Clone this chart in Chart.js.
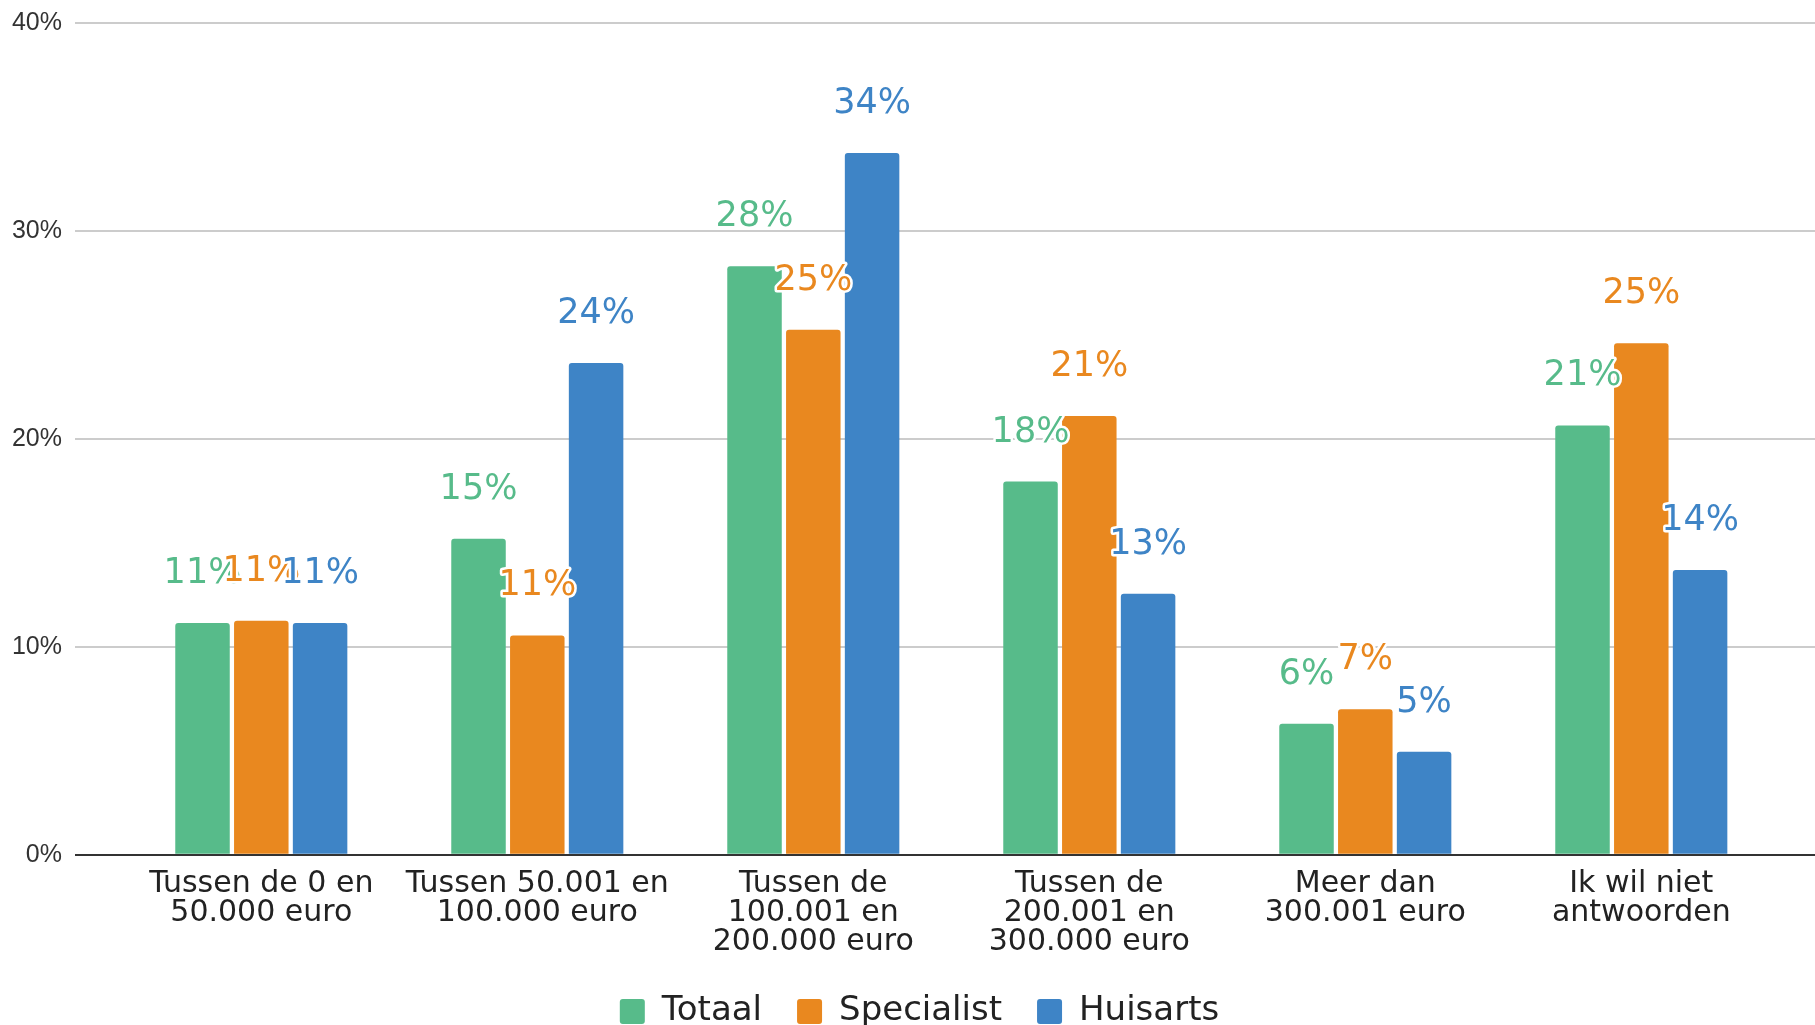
<!DOCTYPE html>
<html>
<head>
<meta charset="utf-8">
<title>Inkomen per groep</title>
<script src="https://cdn.jsdelivr.net/npm/chart.js@4.4.1/dist/chart.umd.min.js"></script>
<style>
    html, body { margin: 0; padding: 0; background: #fff; overflow: hidden; }
    #wrap { width: 1815px; height: 1025px; position: relative; }
</style>
</head>
<body>
<div id="wrap"><canvas id="inkomenChart"></canvas></div>
<script>
// Categorieën (x-as)
const categories = [
    ['Tussen de 0 en', '50.000 euro'],
    ['Tussen 50.001 en', '100.000 euro'],
    ['Tussen de', '100.001 en', '200.000 euro'],
    ['Tussen de', '200.001 en', '300.000 euro'],
    ['Meer dan', '300.001 euro'],
    ['Ik wil niet', 'antwoorden']
];

// Waarden in procenten
const totaal = [11.15, 15.2, 28.3, 17.95, 6.3, 20.65];
const specialist = [11.25, 10.55, 25.25, 21.1, 7.0, 24.6];
const huisarts = [11.15, 23.65, 33.75, 12.55, 4.95, 13.7];

const seriesNames = ['Totaal', 'Specialist', 'Huisarts'];
const yTicks = [0, 10, 20, 30, 40];

const colors = ['#57bb8a', '#e9881f', '#3e84c6'];

const gridColor = ctx => (ctx.tick && ctx.tick.value === 0) ? '#333333' : '#cccccc';

// Percentages boven de staven, met witte rand
const barLabels = {
    id: 'barLabels',
    afterDatasetsDraw(chart) {
        const ctx = chart.ctx;
        ctx.save();
        ctx.font = '35px "DejaVu Sans"';
        ctx.textAlign = 'center';
        ctx.textBaseline = 'alphabetic';
        ctx.lineJoin = 'round';
        ctx.lineWidth = 5;
        chart.data.datasets.forEach((ds, i) => {
            const meta = chart.getDatasetMeta(i);
            meta.data.forEach((bar, j) => {
                const txt = Math.round(ds.data[j]) + '%';
                const y = bar.y - 40;
                ctx.strokeStyle = '#ffffff';
                ctx.strokeText(txt, bar.x, y);
                ctx.fillStyle = ds.backgroundColor;
                ctx.fillText(txt, bar.x, y);
            });
        });
        ctx.restore();
    }
};

// legenda iets naar rechts, zoals in het origineel
const legendShift = {
    id: 'legendShift',
    afterLayout(chart) {
        if (chart.legend) {
            chart.legend.left += 12;
            chart.legend.right += 12;
        }
    }
};

const ctx = document.getElementById('inkomenChart').getContext('2d');

new Chart(ctx, {
    type: 'bar',
    data: {
        labels: categories,
        datasets: [totaal, specialist, huisarts].map((d, i) => ({
            label: seriesNames[i],
            data: d,
            backgroundColor: colors[i],
            borderRadius: { topLeft: 3, topRight: 3 },
            categoryPercentage: 0.639,
            barPercentage: 0.927
        }))
    },
    options: {
        responsive: true,
        maintainAspectRatio: false,
        animation: false,
        layout: { padding: { left: 0, top: 23, right: 0, bottom: -13.5 } },
        plugins: {
            legend: {
                position: 'bottom',
                labels: {
                    font: { family: '"DejaVu Sans"', size: 34 },
                    color: '#222222',
                    boxWidth: 25,
                    boxHeight: 25,
                    padding: 35,
                    useBorderRadius: true,
                    borderRadius: 3
                }
            },
            tooltip: { enabled: false }
        },
        scales: {
            x: {
                grid: { display: false },
                border: { display: true, color: '#333333', width: 2 },
                ticks: {
                    font: { family: '"DejaVu Sans"', size: 30, lineHeight: 0.97 },
                    color: '#222222',
                    padding: 7,
                    maxRotation: 0,
                    autoSkip: false
                },
                afterFit: s => { s.height = 104.7; }
            },
            y: {
                min: 0,
                max: 40,
                afterBuildTicks: s => { s.ticks = yTicks.map(v => ({ value: v })); },
                grid: { color: gridColor, tickColor: gridColor, lineWidth: 2, tickLength: 48.3 },
                border: { display: false },
                ticks: {
                    font: { family: '"Liberation Sans", Arial', size: 25, lineHeight: 0.6 },
                    color: '#333333',
                    padding: 13,
                    callback: v => v + '%'
                },
                afterFit: s => { s.width = 123.3; }
            },
            y2: {
                position: 'right',
                min: 0,
                max: 40,
                afterBuildTicks: s => { s.ticks = yTicks.map(v => ({ value: v })); },
                grid: { drawOnChartArea: false, color: gridColor, tickColor: gridColor, lineWidth: 2, tickLength: 35.7 },
                border: { display: false },
                ticks: { display: false },
                afterFit: s => { s.width = 35.7; }
            }
        }
    },
    plugins: [barLabels, legendShift]
});
</script>
</body>
</html>
